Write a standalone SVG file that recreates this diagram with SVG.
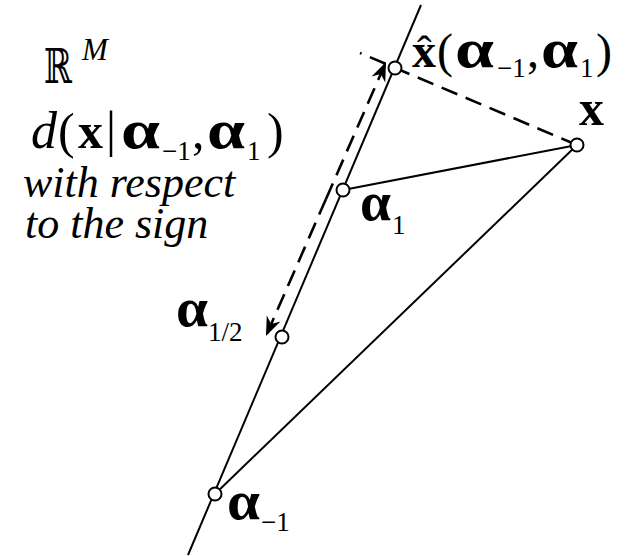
<svg xmlns="http://www.w3.org/2000/svg" width="625" height="556" viewBox="0 0 625 556">
<style>
.ln{stroke:#000;stroke-width:2;fill:none}
.dash{stroke:#000;stroke-width:2.6;fill:none;stroke-dasharray:17 9}
.pt{fill:#fff;stroke:#000;stroke-width:2}
.t{font-family:"Liberation Serif",serif;fill:#000}
.it{font-style:italic}
.b{font-weight:bold}
.al{font-family:"Liberation Serif",serif;font-weight:bold;font-size:54px;fill:#000}
.sub{font-family:"Liberation Serif",serif;font-size:27px;fill:#000}
</style>
<defs>
<marker id="ah" viewBox="-20 -9 22 18" refX="0" refY="0" markerWidth="22" markerHeight="18" markerUnits="userSpaceOnUse" orient="auto">
<path d="M0,0 L-19,-7.5 L-13,0 L-19,7.5 Z" fill="#000"/>
</marker>
</defs>
<g id="connectors">
<line class="ln" x1="421" y1="5" x2="188" y2="555"/>
<line class="ln" x1="343" y1="190" x2="577" y2="145"/>
<line class="ln" x1="215" y1="494" x2="577" y2="145"/>
<line class="dash" x1="577" y1="145" x2="360" y2="53"/>
<line class="dash" x1="326" y1="199" x2="386" y2="62" marker-end="url(#ah)"/>
<line class="dash" x1="326" y1="199" x2="266" y2="336" marker-end="url(#ah)"/>
</g>
<g id="node-xhat"><circle class="pt" cx="395" cy="68" r="6.5"/>
<text class="t b" font-size="48" x="412" y="67">x</text>
<text class="t" font-size="44" x="417" y="66">ˆ</text>
<text class="t" font-size="48" x="437" y="67">(</text>
<text class="al" x="455" y="67" textLength="39" lengthAdjust="spacingAndGlyphs">α</text>
<text class="sub" x="497" y="77">−1</text>
<text class="t" font-size="48" x="527" y="67">,</text>
<text class="al" x="541" y="67" textLength="37" lengthAdjust="spacingAndGlyphs">α</text>
<text class="sub" x="580" y="77">1</text>
<text class="t" font-size="48" x="596" y="67">)</text>
</g>
<g id="node-x"><circle class="pt" cx="577" cy="145" r="6.5"/>
<text class="t b" font-size="50" x="579" y="125">x</text></g>
<g id="node-a1"><circle class="pt" cx="343" cy="190" r="6.5"/>
<text class="al" x="360" y="220" textLength="31" lengthAdjust="spacingAndGlyphs">α</text>
<text class="sub" x="392" y="234">1</text></g>
<g id="node-a12"><circle class="pt" cx="282" cy="337" r="6.5"/>
<text class="al" x="176" y="326" textLength="32" lengthAdjust="spacingAndGlyphs">α</text>
<text class="sub" font-size="29" x="208" y="341">1/2</text></g>
<g id="node-am1"><circle class="pt" cx="215" cy="494" r="6.5"/>
<text class="al" x="227" y="519" textLength="33" lengthAdjust="spacingAndGlyphs">α</text>
<text class="sub" x="261" y="531">−1</text></g>
<g id="labels">
<text font-size="48" x="44" y="83" textLength="28" lengthAdjust="spacingAndGlyphs" style="font-family:'DejaVu Serif',serif">ℝ</text>
<text class="t it" font-size="31" x="82" y="60">M</text>
<text class="t it" font-size="52" x="31" y="148">d</text>
<text class="t" font-size="50" x="58" y="148">(</text>
<text class="t b" font-size="50" x="78" y="148">x</text>
<text class="t" font-size="50" x="106" y="146">|</text>
<text class="al" x="121" y="148" textLength="39" lengthAdjust="spacingAndGlyphs">α</text>
<text class="sub" x="162" y="160">−1</text>
<text class="t" font-size="50" x="192" y="148">,</text>
<text class="al" x="207" y="148" textLength="38" lengthAdjust="spacingAndGlyphs">α</text>
<text class="sub" x="247" y="160">1</text>
<text class="t" font-size="50" x="267" y="148">)</text>
<text class="t it" font-size="44" x="23" y="197">with respect</text>
<text class="t it" font-size="44" x="25" y="238">to the sign</text>
</g>
</svg>
